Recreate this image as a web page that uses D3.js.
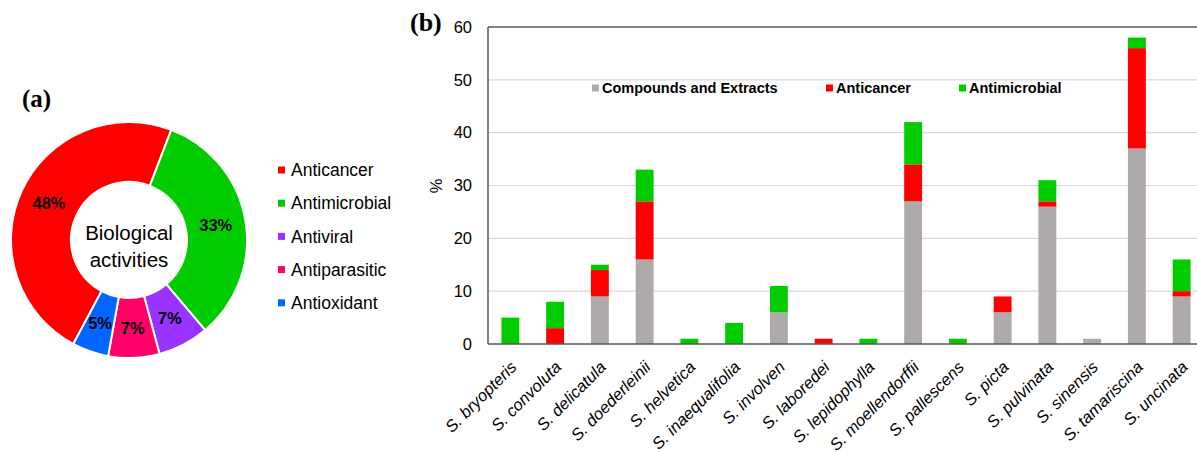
<!DOCTYPE html>
<html>
<head>
<meta charset="utf-8">
<script src="https://cdn.jsdelivr.net/npm/d3@7"></script>
<style>
  body { margin: 0; background: #fff; }
  svg text { font-family: "Liberation Sans", Arial, sans-serif; }
</style>
</head>
<body>
<svg id="chart" width="1197" height="452"></svg>
<script>
// (a) pie data
var activities = ["Anticancer", "Antimicrobial", "Antiviral", "Antiparasitic", "Antioxidant"];
var activityShare = [48, 33, 7, 7, 5];
var activityColors = ["#ff0000", "#00cc00", "#9933ff", "#ff0066", "#0066ff"];

// (b) stacked bar data
var species = ["S. bryopteris", "S. convoluta", "S. delicatula", "S. doederleinii", "S. helvetica",
  "S. inaequalifolia", "S. involven", "S. laboredei", "S. lepidophylla", "S. moellendorffii",
  "S. pallescens", "S. picta", "S. pulvinata", "S. sinensis", "S. tamariscina", "S. uncinata"];
var compounds =    [0, 0, 9, 16, 0, 0, 6, 0, 0, 27, 0, 6, 26, 1, 37, 9];
var anticancer =   [0, 3, 5, 11, 0, 0, 0, 1, 0, 7, 0, 3, 1, 0, 19, 1];
var antimicrobial = [5, 5, 1, 6, 1, 4, 5, 0, 1, 8, 1, 0, 4, 0, 2, 6];
var seriesNames = ["Compounds and Extracts", "Anticancer", "Antimicrobial"];
var seriesColors = ["#aeaaa9", "#ff0000", "#00cc00"];
var yTicks = [0, 10, 20, 30, 40, 50, 60];

var svg = d3.select("#chart");

//PANEL A - donut
var pieG = svg.append("g").attr("transform", "translate(129,240)");
var pie = d3.pie().sort(null)
  .startAngle(-151.8 * Math.PI / 180)
  .endAngle(208.2 * Math.PI / 180);
var arc = d3.arc().innerRadius(58).outerRadius(118);
var arcs = pie(activityShare);

pieG.selectAll(".slice")
  .data(arcs)
  .enter()
  .append("path")
  .attr("class", "slice")
  .attr("d", arc)
  .attr("fill", function(d, i) { return activityColors[i]; })
  .attr("stroke", "#fff")
  .attr("stroke-width", 2);

pieG.selectAll(".pct")
  .data(arcs)
  .enter()
  .append("text")
  .attr("class", "pct")
  .attr("transform", function(d) { return "translate(" + arc.centroid(d) + ")"; })
  .attr("text-anchor", "middle")
  .attr("dy", "0.35em")
  .style("font-size", "16.5px")
  .style("font-weight", "bold")
  .text(function(d) { return d.data + "%"; });

pieG.append("text").attr("text-anchor", "middle").attr("y", 0)
  .style("font-size", "20.5px").text("Biological");
pieG.append("text").attr("text-anchor", "middle").attr("y", 27)
  .style("font-size", "20.5px").text("activities");

svg.append("text").attr("x", 22).attr("y", 107)
  .style("font-family", "'Liberation Serif', 'Times New Roman', serif")
  .style("font-size", "25px").style("font-weight", "bold").text("(a)");

var legA = svg.append("g").attr("transform", "translate(278,170)");
var legItems = legA.selectAll(".leg")
  .data(activities)
  .enter()
  .append("g")
  .attr("transform", function(d, i) { return "translate(0," + (i * 33.2) + ")"; });
legItems.append("rect").attr("x", 0).attr("y", -3.5).attr("width", 7).attr("height", 7)
  .attr("fill", function(d, i) { return activityColors[i]; });
legItems.append("text").attr("x", 13).attr("dy", "0.35em")
  .style("font-size", "17.5px").text(function(d) { return d; });

//PANEL B - stacked bars
var left = 488, plotTop = 27, bottom = 344, right = 1204;
var x = d3.scaleBand().domain(species).range([left, right]).paddingInner(0.6).paddingOuter(0.3);
var y = d3.scaleLinear().domain([0, 60]).range([bottom, plotTop]);

var rows = species.map(function(s, i) {
  return { name: s, c: compounds[i], a: anticancer[i], m: antimicrobial[i] };
});
var stacked = d3.stack().keys(["c", "a", "m"])(rows);

// grid
svg.append("g").attr("class", "grid")
  .selectAll("line")
  .data(yTicks.filter(function(t) { return t > 0 && t < 60; }))
  .enter()
  .append("line")
  .attr("x1", left).attr("x2", right)
  .attr("y1", function(d) { return y(d); })
  .attr("y2", function(d) { return y(d); })
  .attr("stroke", "#d9d9d9").attr("stroke-width", 1.2);

var layers = svg.append("g").selectAll(".layer")
  .data(stacked)
  .enter()
  .append("g")
  .attr("fill", function(d, i) { return seriesColors[i]; });

layers.selectAll("rect")
  .data(function(d) { return d.filter(function(p) { return p[1] > p[0]; }); })
  .enter()
  .append("rect")
  .attr("x", function(d) { return x(d.data.name); })
  .attr("width", x.bandwidth())
  .attr("y", function(d) { return y(d[1]); })
  .attr("height", function(d) { return y(d[0]) - y(d[1]); });

// frame lines
svg.append("line").attr("x1", left).attr("x2", right).attr("y1", plotTop).attr("y2", plotTop)
  .attr("stroke", "#595959").attr("stroke-width", 1.5);
svg.append("line").attr("x1", left).attr("x2", right).attr("y1", bottom).attr("y2", bottom)
  .attr("stroke", "#595959").attr("stroke-width", 1.5);
svg.append("line").attr("x1", left).attr("x2", left).attr("y1", plotTop).attr("y2", bottom)
  .attr("stroke", "#595959").attr("stroke-width", 1.5);

var yAxis = d3.axisLeft(y).tickValues(yTicks).tickSize(0).tickPadding(16);
svg.append("g").attr("transform", "translate(" + left + ",0)")
  .call(yAxis)
  .call(function(g) { g.select(".domain").remove(); })
  .selectAll("text")
  .style("font-size", "16.5px")
  .style("font-family", "'Liberation Sans', Arial, sans-serif")
  .attr("fill", "#000");

svg.append("text")
  .attr("transform", "translate(442,186) rotate(-90)")
  .attr("text-anchor", "middle")
  .style("font-size", "16.5px").text("%");

svg.append("text").attr("x", 410).attr("y", 31)
  .style("font-family", "'Liberation Serif', 'Times New Roman', serif")
  .style("font-size", "26px").style("font-weight", "bold").text("(b)");

// x labels
svg.append("g").selectAll(".xl")
  .data(species)
  .enter()
  .append("text")
  .attr("class", "xl")
  .attr("transform", function(d) {
    return "translate(" + (x(d) + x.bandwidth() / 2 + 3) + ",364) rotate(-45)";
  })
  .attr("text-anchor", "end")
  .attr("dy", "0.35em")
  .style("font-size", "16.5px")
  .style("font-style", "italic")
  .text(function(d) { return d; });

// legend b
var legBx = [592, 826, 959];
var legB = svg.append("g").selectAll(".legb")
  .data(seriesNames)
  .enter()
  .append("g")
  .attr("transform", function(d, i) { return "translate(" + legBx[i] + ",88)"; });
legB.append("rect").attr("x", 0).attr("y", -3.5).attr("width", 7).attr("height", 7)
  .attr("fill", function(d, i) { return seriesColors[i]; });
legB.append("text").attr("x", 10).attr("dy", "0.35em")
  .style("font-size", "14.5px").style("font-weight", "bold")
  .text(function(d) { return d; });
</script>
</body>
</html>
